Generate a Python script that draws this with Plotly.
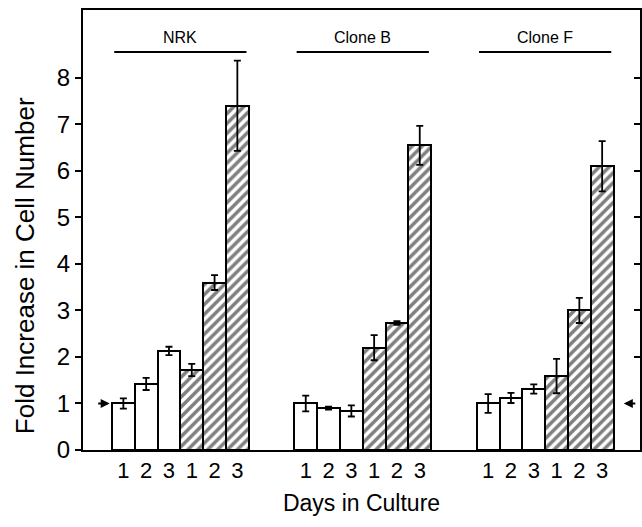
import plotly.graph_objects as go

# ---- data ----
groups = ["NRK", "Clone B", "Clone F"]
day_labels = ["1", "2", "3", "1", "2", "3"]
# white (open) bars: days 1-3, hatched bars: days 1-3
nrk_open = [1.0, 1.42, 2.13]
nrk_open_err = [0.11, 0.13, 0.09]
nrk_hatch = [1.72, 3.6, 7.4]
nrk_hatch_err = [0.13, 0.16, 0.97]

cloneb_open = [1.0, 0.9, 0.84]
cloneb_open_err = [0.17, 0.03, 0.12]
cloneb_hatch = [2.2, 2.73, 6.55]
cloneb_hatch_err = [0.27, 0.04, 0.42]

clonef_open = [1.0, 1.12, 1.31]
clonef_open_err = [0.2, 0.11, 0.1]
clonef_hatch = [1.59, 3.0, 6.1]
clonef_hatch_err = [0.37, 0.27, 0.54]

baseline = 1.0
y_ticks = [0, 1, 2, 3, 4, 5, 6, 7, 8]

FONT = "Liberation Sans, Arial, sans-serif"

open_vals = [nrk_open, cloneb_open, clonef_open]
open_errs = [nrk_open_err, cloneb_open_err, clonef_open_err]
hatch_vals = [nrk_hatch, cloneb_hatch, clonef_hatch]
hatch_errs = [nrk_hatch_err, cloneb_hatch_err, clonef_hatch_err]

group_start = [0, 8, 16]

open_x, open_y, open_e = [], [], []
hatch_x, hatch_y, hatch_e = [], [], []
for gi, s in enumerate(group_start):
    for d in range(3):
        open_x.append(s + d)
        open_y.append(open_vals[gi][d])
        open_e.append(open_errs[gi][d])
        hatch_x.append(s + 3 + d)
        hatch_y.append(hatch_vals[gi][d])
        hatch_e.append(hatch_errs[gi][d])

err_style = dict(type="data", visible=True, color="black", thickness=1.8, width=3.5)

fig = go.Figure()
fig.add_trace(go.Bar(
    x=open_x, y=open_y, width=1.0,
    marker=dict(color="white", line=dict(color="black", width=2)),
    error_y=dict(array=open_e, **err_style),
    showlegend=False,
))
fig.add_trace(go.Bar(
    x=hatch_x, y=hatch_y, width=1.0,
    marker=dict(color="white", line=dict(color="black", width=2),
                pattern=dict(shape="/", fgcolor="black", bgcolor="white",
                             size=7, solidity=0.5)),
    error_y=dict(array=hatch_e, **err_style),
    showlegend=False,
))
# invisible trace for right-hand axis
fig.add_trace(go.Scatter(x=[open_x[0]], y=[0], yaxis="y2", mode="markers",
                         marker=dict(opacity=0), showlegend=False, hoverinfo="skip"))

tickvals = []
ticktext = []
for s in group_start:
    for d in range(6):
        tickvals.append(s + d)
        ticktext.append(day_labels[d])

yr = [0, 9.46]
fig.update_layout(
    width=642, height=527,
    margin=dict(l=83, r=2, t=10, b=77),
    plot_bgcolor="white", paper_bgcolor="white",
    bargap=0,
    font=dict(family=FONT, color="black", size=22),
    xaxis=dict(range=[-1.77, 22.66], tickvals=tickvals, ticktext=ticktext,
               ticks="", showline=True, linecolor="black", linewidth=2,
               mirror=True, showgrid=False, zeroline=False, automargin=False,
               tickfont=dict(size=22, family=FONT),
               title=dict(text="Days in Culture", font=dict(size=23, family=FONT), standoff=12)),
    yaxis=dict(range=yr, tickvals=y_ticks, ticks="outside", ticklen=6, tickwidth=2,
               tickcolor="black", showline=True, linecolor="black", linewidth=2,
               automargin=False,
               showgrid=False, zeroline=False, tickfont=dict(size=24, family=FONT)),
    yaxis2=dict(range=yr, overlaying="y", side="right", tickvals=y_ticks[2:],
                ticks="inside", ticklen=6, tickwidth=2, tickcolor="black",
                showticklabels=False, showline=True, linecolor="black", linewidth=2,
                automargin=False,
                showgrid=False, zeroline=False),
)

# y title as annotation
fig.add_annotation(text="Fold Increase in Cell Number", textangle=-90,
                   xref="paper", yref="paper", x=-0.104, y=0.418,
                   showarrow=False, font=dict(size=26, family=FONT),
                   xanchor="center", yanchor="middle")

# group labels with lines
half = 2.9
for gi, s in enumerate(group_start):
    c = s + 2.5
    fig.add_shape(type="line", xref="x", yref="paper", x0=c - half, x1=c + half,
                  y0=0.9045, y1=0.9045, line=dict(color="black", width=2))
    fig.add_annotation(text=groups[gi], xref="x", yref="paper", x=c, y=0.937,
                       showarrow=False, font=dict(size=16, family=FONT),
                       xanchor="center", yanchor="middle")

# baseline arrows
fig.add_annotation(x=-0.6, y=baseline, xref="x", yref="y", ax=-13, ay=0,
                   text="", showarrow=True,
                   arrowhead=2, arrowsize=1, arrowwidth=1.8, arrowcolor="black")
fig.add_annotation(x=21.95, y=baseline, xref="x", yref="y", ax=13, ay=0,
                   text="", showarrow=True,
                   arrowhead=2, arrowsize=1, arrowwidth=1.8, arrowcolor="black")

fig.write_html("out.html", config={"displayModeBar": False},
               post_script="document.body.style.margin='0';")
